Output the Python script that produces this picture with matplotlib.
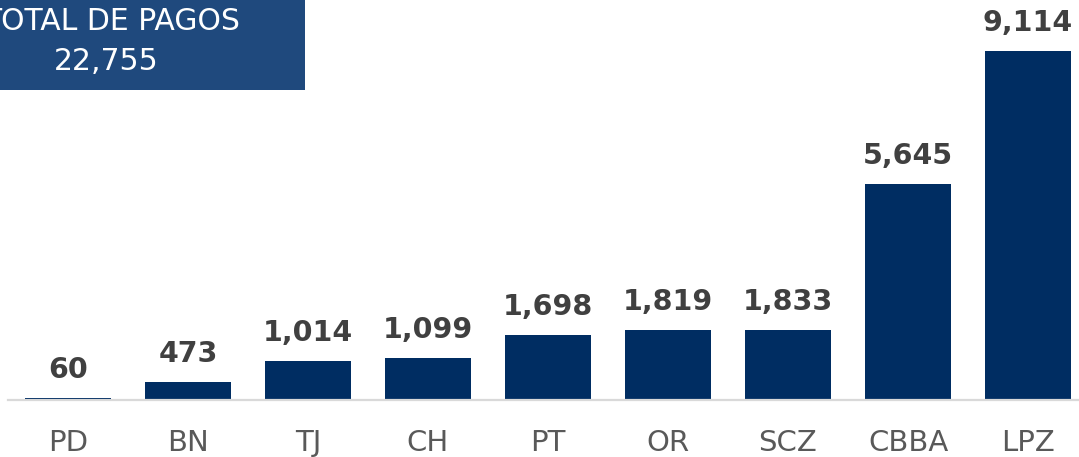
import matplotlib.pyplot as plt
from matplotlib.patches import Rectangle

categories = ["PD", "BN", "TJ", "CH", "PT", "OR", "SCZ", "CBBA", "LPZ"]
pagos = [60, 473, 1014, 1099, 1698, 1819, 1833, 5645, 9114]
total_label = "TOTAL DE PAGOS"
total_value = "22,755"

W, H = 1079, 457
fig = plt.figure(figsize=(W / 100, H / 100), dpi=100)
fig.patch.set_facecolor("white")

# axes run a little past the right edge, like the source slide
ax = fig.add_axes([8 / W, 57 / H, 1080 / W, 400 / H])
ax.bar(range(len(categories)), pagos, width=0.72, color="#002D62", zorder=2)

ax.set_xlim(-0.5, len(categories) - 0.5)
ax.set_ylim(0, 10446)
for side in ["top", "right", "left"]:
    ax.spines[side].set_visible(False)
ax.spines["bottom"].set_color("#D9D9D9")
ax.spines["bottom"].set_linewidth(1.6)
ax.set_yticks([])
ax.set_xticks(range(len(categories)))
ax.set_xticklabels(categories, fontsize=21, color="#595959")
ax.tick_params(axis="x", length=0, pad=21)
ax.patch.set_visible(False)

for i, v in enumerate(pagos):
    ax.annotate(f"{v:,}", (i, v), xytext=(0, 10), textcoords="offset points",
                ha="center", va="bottom", fontsize=20.5, fontweight="bold",
                color="#404040", annotation_clip=False)

# total box in the top-left corner
fig.patches.append(Rectangle((-70 / W, 1 - 90 / H), 375 / W, 90 / H,
                             transform=fig.transFigure, facecolor="#1F497D",
                             edgecolor="none", zorder=5))
fig.text(112 / W, 1 - 21 / H, total_label, ha="center", va="center",
         fontsize=21.5, color="white", zorder=6)
fig.text(106 / W, 1 - 61 / H, total_value, ha="center", va="center",
         fontsize=21.5, color="white", zorder=6)

fig.savefig("out.png", dpi=100)
